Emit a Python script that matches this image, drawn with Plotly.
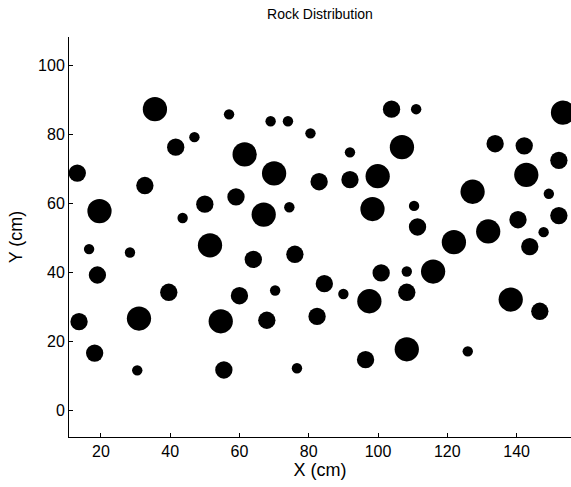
import plotly.graph_objects as go

# Rock positions (cm) and rock diameters (cm)
large_x = [35.6, 61.5, 70.0, 19.6, 67.0, 51.5, 31.0, 54.6, 153.4, 106.9,
           99.9, 142.8, 98.4, 127.3, 131.8, 121.9, 115.9, 97.5, 138.3, 108.3]
large_y = [87.3, 74.2, 68.7, 57.8, 56.8, 47.9, 26.7, 25.9, 86.3, 76.3,
           67.9, 68.3, 58.4, 63.4, 51.9, 48.8, 40.3, 31.7, 32.2, 17.8]

medium_x = [41.6, 13.2, 32.7, 59.0, 50.0, 64.0, 76.0, 19.0, 39.6, 60.0,
            13.7, 67.9, 18.2, 55.5, 103.9, 133.8, 142.2, 152.2, 83.0, 91.9,
            111.4, 140.4, 152.2, 143.8, 100.9, 84.5, 108.3, 146.7, 82.4, 96.4]
medium_y = [76.3, 68.8, 65.2, 61.9, 59.8, 43.8, 45.3, 39.3, 34.3, 33.3,
            25.8, 26.2, 16.7, 11.8, 87.3, 77.3, 76.7, 72.5, 66.3, 66.9,
            53.2, 55.3, 56.5, 47.5, 39.9, 36.8, 34.3, 28.8, 27.3, 14.8]

small_x = [57.0, 69.0, 74.0, 47.0, 74.4, 43.6, 16.6, 28.4, 70.3, 30.5,
           76.6, 111.0, 80.5, 91.9, 110.4, 149.3, 147.8, 108.3, 90.0, 125.9]
small_y = [85.8, 83.8, 83.8, 79.2, 58.9, 55.8, 46.8, 45.8, 34.8, 11.7,
           12.3, 87.3, 80.3, 74.8, 59.3, 62.8, 51.7, 40.3, 33.8, 17.2]

diameters_cm = [7.0, 5.0, 3.0]

x_ticks = [20, 40, 60, 80, 100, 120, 140]
y_ticks = [0, 20, 40, 60, 80, 100]

X_RANGE = [10.8, 155.7]
Y_RANGE = [-7.6, 108.2]
PLOT_W = 502
PX_PER_CM = PLOT_W / (X_RANGE[1] - X_RANGE[0])

fig = go.Figure()
for xs, ys, d in zip([large_x, medium_x, small_x],
                     [large_y, medium_y, small_y], diameters_cm):
    fig.add_trace(go.Scatter(
        x=xs, y=ys, mode="markers",
        marker=dict(size=d * PX_PER_CM, color="black", line=dict(width=0)),
        showlegend=False, hoverinfo="x+y"))

FAMILY = "Liberation Sans, Arial, sans-serif"
tick_font = dict(family=FAMILY, size=16, color="black")
label_font = dict(family=FAMILY, size=18, color="black")

fig.update_layout(
    width=571, height=487,
    margin=dict(l=69, r=0, t=37, b=50),
    paper_bgcolor="white", plot_bgcolor="white",
    font=dict(family=FAMILY, size=16, color="black"),
    title=dict(text="Rock Distribution", x=(69 + 571) / 2 / 571, xanchor="center",
               y=1 - 14 / 487, yanchor="middle", yref="container",
               font=dict(family=FAMILY, size=14, color="black")),
    xaxis=dict(range=X_RANGE, tickvals=x_ticks, ticks="inside", ticklen=4,
               tickcolor="black", showline=True, linecolor="black", linewidth=1,
               showgrid=False, zeroline=False, mirror=False,
               title=dict(text="X (cm)", standoff=1, font=label_font),
               tickfont=tick_font),
    yaxis=dict(range=Y_RANGE, tickvals=y_ticks, ticks="inside", ticklen=4,
               tickcolor="black", showline=True, linecolor="black", linewidth=1,
               showgrid=False, zeroline=False, mirror=False,
               title=dict(text="Y (cm)", standoff=10, font=label_font),
               tickfont=tick_font),
)

fig.write_html("out.html")
